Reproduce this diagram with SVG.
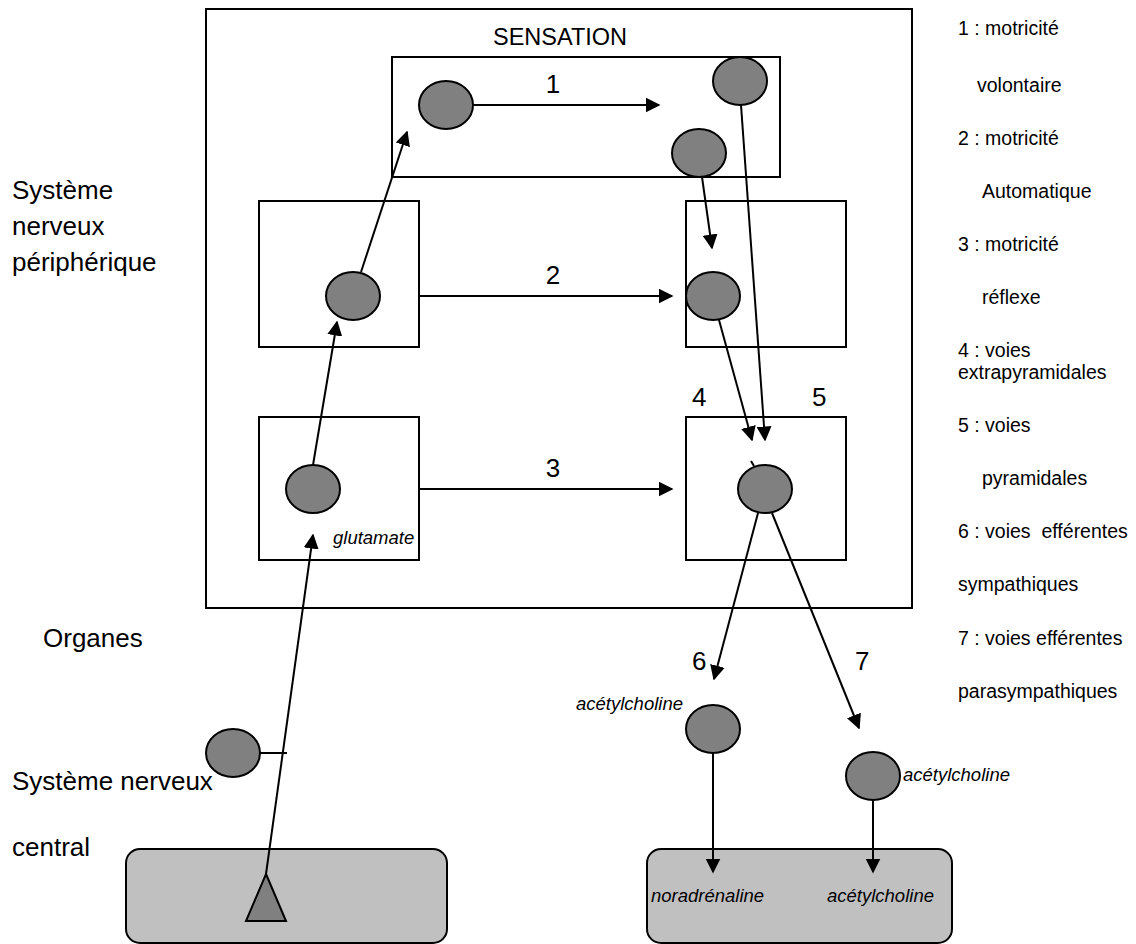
<svg xmlns="http://www.w3.org/2000/svg" width="1136" height="944" viewBox="0 0 1136 944">
<style>
text{font-family:"Liberation Sans",Arial,sans-serif;fill:#000}
.lab{font-size:26px}
.num{font-size:26px}
.leg{font-size:19.5px}
.it{font-size:18.5px;font-style:italic}
.box{fill:none;stroke:#000;stroke-width:2}
.cell{fill:#808080;stroke:#000;stroke-width:2}
.org{fill:#c0c0c0;stroke:#000;stroke-width:2}
.ln{fill:none;stroke:#000;stroke-width:2}
.ar{fill:none;stroke:#000;stroke-width:2;marker-end:url(#ah)}
</style>
<defs>
<marker id="ah" viewBox="0 0 10 10" refX="9" refY="5" markerWidth="7.5" markerHeight="7.5" orient="auto" markerUnits="strokeWidth">
<path d="M0,0 L10,5 L0,10 z" fill="#000"/>
</marker>
</defs>
<rect width="1136" height="944" fill="#fff"/>

<g id="sensation">
<rect class="box" x="206" y="9" width="706" height="599"/>
<text x="560" y="45" font-size="23.5" text-anchor="middle">SENSATION</text>
</g>

<g id="box-top">
<rect class="box" x="392" y="57" width="388" height="120"/>
</g>
<g id="box-mid-left"><rect class="box" x="259" y="201" width="160" height="146"/></g>
<g id="box-mid-right"><rect class="box" x="686" y="201" width="160" height="146"/></g>
<g id="box-bot-left"><rect class="box" x="259" y="417" width="160" height="143"/></g>
<g id="box-bot-right"><rect class="box" x="686" y="417" width="160" height="143"/></g>

<g id="organ-left">
<rect class="org" x="126" y="849" width="321" height="94" rx="14"/>
<path class="cell" d="M266,874 L286,921 L246,921 Z"/>
</g>
<g id="organ-right">
<rect class="org" x="647" y="849" width="305" height="94" rx="14"/>
<text class="it" x="651" y="902">noradrénaline</text>
<text class="it" x="827" y="902">acétylcholine</text>
</g>

<g id="n-top-left"><ellipse class="cell" cx="446" cy="105" rx="27" ry="24"/></g>
<g id="n-top-right"><ellipse class="cell" cx="740" cy="81" rx="27" ry="24"/></g>
<g id="n-top-mid"><ellipse class="cell" cx="699" cy="153" rx="27" ry="24"/></g>
<g id="n-mid-left"><ellipse class="cell" cx="353" cy="296" rx="27" ry="24"/></g>
<g id="n-mid-right"><ellipse class="cell" cx="713" cy="296" rx="27" ry="24"/></g>
<g id="n-bot-left"><ellipse class="cell" cx="313" cy="489" rx="27" ry="24"/>
<text class="it" x="333" y="544">glutamate</text></g>
<g id="n-bot-right"><ellipse class="cell" cx="765" cy="489" rx="27" ry="24"/></g>
<g id="n-central"><ellipse class="cell" cx="233" cy="753" rx="27" ry="24"/></g>
<g id="n-symp"><ellipse class="cell" cx="713" cy="729" rx="27" ry="24"/>
<text class="it" x="683" y="710" text-anchor="end">acétylcholine</text></g>
<g id="n-parasymp"><ellipse class="cell" cx="873" cy="776" rx="27" ry="24"/>
<text class="it" x="903" y="781">acétylcholine</text></g>

<g id="connectors">
<line class="ar" x1="474" y1="105" x2="659" y2="105"/>
<line class="ar" x1="420" y1="296" x2="672" y2="296"/>
<line class="ar" x1="420" y1="489" x2="672" y2="489"/>
<line class="ar" x1="361" y1="272" x2="407" y2="132"/>
<line class="ar" x1="313" y1="465" x2="337" y2="322"/>
<line class="ar" x1="266" y1="874" x2="313" y2="535"/>
<line class="ln" x1="260" y1="753" x2="287" y2="753"/>
<line class="ar" x1="702" y1="177" x2="712" y2="248"/>
<line class="ar" x1="741" y1="105" x2="765" y2="440"/>
<line class="ar" x1="719" y1="320" x2="752" y2="440"/>
<line class="ln" x1="751" y1="461" x2="754" y2="466"/>
<line class="ar" x1="758" y1="513" x2="714" y2="679"/>
<line class="ar" x1="772" y1="513" x2="859" y2="728"/>
<line class="ar" x1="713" y1="753" x2="713" y2="872"/>
<line class="ar" x1="873" y1="800" x2="873" y2="872"/>
</g>

<g id="numbers">
<text class="num" x="553" y="93" text-anchor="middle">1</text>
<text class="num" x="553" y="284" text-anchor="middle">2</text>
<text class="num" x="553" y="477" text-anchor="middle">3</text>
<text class="num" x="692" y="406">4</text>
<text class="num" x="812" y="406">5</text>
<text class="num" x="692" y="670">6</text>
<text class="num" x="855" y="670">7</text>
</g>

<g id="side-labels">
<text class="lab" x="12" y="199">Système</text>
<text class="lab" x="12" y="235">nerveux</text>
<text class="lab" x="12" y="271">périphérique</text>
<text class="lab" x="43" y="647">Organes</text>
<text class="lab" x="12" y="790">Système nerveux</text>
<text class="lab" x="12" y="856">central</text>
</g>

<g id="legend">
<text class="leg" x="958" y="35">1 : motricité</text>
<text class="leg" x="977" y="92">volontaire</text>
<text class="leg" x="958" y="145">2 : motricité</text>
<text class="leg" x="982" y="198">Automatique</text>
<text class="leg" x="958" y="251">3 : motricité</text>
<text class="leg" x="982" y="304">réflexe</text>
<text class="leg" x="958" y="357">4 : voies</text>
<text class="leg" x="958" y="379">extrapyramidales</text>
<text class="leg" x="958" y="432">5 : voies</text>
<text class="leg" x="982" y="485">pyramidales</text>
<text class="leg" x="958" y="538" xml:space="preserve">6 : voies  efférentes</text>
<text class="leg" x="958" y="591">sympathiques</text>
<text class="leg" x="958" y="645">7 : voies efférentes</text>
<text class="leg" x="958" y="698">parasympathiques</text>
</g>
</svg>
